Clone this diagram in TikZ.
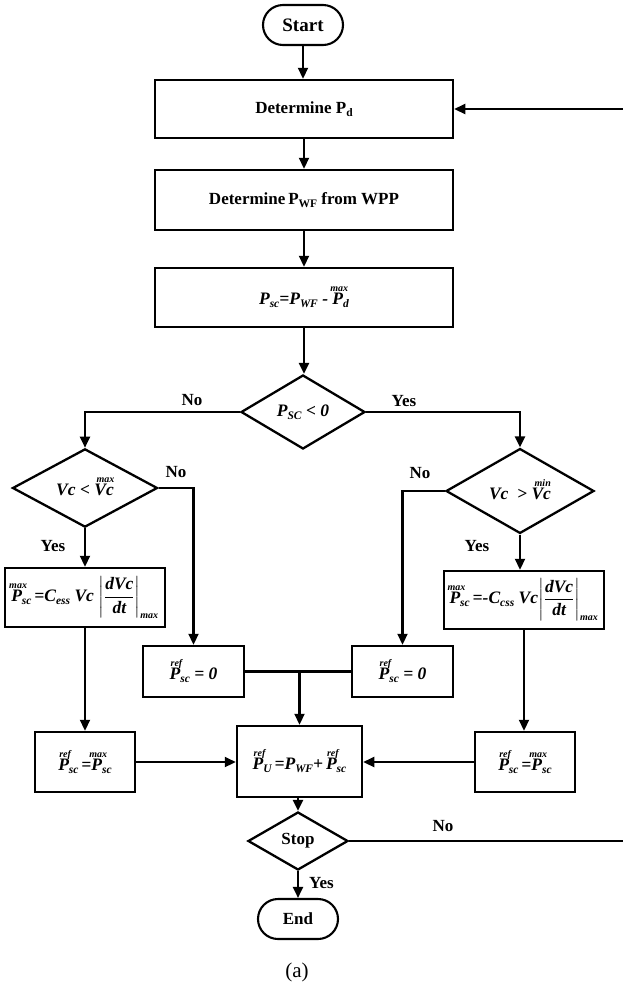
\documentclass[tikz,border=0pt]{standalone}
\usepackage{amsmath}
\usepackage{fontspec}
\setmainfont{Liberation Serif}
\usetikzlibrary{shapes.geometric,arrows.meta}

\newcommand{\subf}{\fontsize{11.5}{12}\selectfont}
\newcommand{\supf}{\fontsize{10}{10}\selectfont}
\newcommand{\mysub}[1]{\raisebox{-3pt}{\subf #1}}
\newcommand{\Pss}[3]{\setbox0=\hbox{#1}\rlap{\hbox to \wd0{\hss\hskip3pt\raisebox{13pt}{\supf #2}\hss}}\box0\mysub{#3}}
\newcommand{\dfr}{\left|\genfrac{}{}{1pt}{0}{\mbox{dVc}}{\mbox{dt}}\right|_{\mbox{\supf max}}}

\tikzset{
  box/.style={draw, line width=2.5pt, inner sep=0pt, align=center,
    font=\fontsize{17}{20}\selectfont\bfseries},
  fbox/.style={box, font=\fontsize{17.5}{20}\selectfont\bfseries\itshape},
  term/.style={draw, line width=2.1pt, rounded corners=20pt, minimum width=80pt,
    minimum height=40pt, inner sep=0pt, font=\fontsize{17}{20}\selectfont\bfseries},
  dia/.style={diamond, draw, line width=2.3pt, inner sep=0pt,
    font=\fontsize{17.5}{20}\selectfont\bfseries\itshape},
  arr/.style={-{Triangle[length=11pt,width=10pt]}, line width=2.2pt},
  ln/.style={line width=2.2pt},
  lab/.style={inner sep=0pt, font=\fontsize{17}{20}\selectfont\bfseries}
}

\begin{document}
\begin{tikzpicture}[x=1pt,y=-1pt]
\useasboundingbox (0,0) rectangle (622,994);

\node[term, font=\fontsize{19}{20}\selectfont\bfseries] (start) at (303,25) {Start};
\node[box, minimum width=298pt, minimum height=58pt] (b1) at (304,109) {Determine P\mysub{d}};
\node[box, minimum width=298pt, minimum height=60pt] (b2) at (304,200) {Determine\,P\mysub{WF} from WPP};
\node[fbox, minimum width=298pt, minimum height=59pt] (b3) at (304,297.5) {P\mysub{sc}=P\mysub{WF} - \Pss{P}{max}{d}};

\node[dia, minimum width=124pt, minimum height=74pt] (d1) at (303,412) {P\mysub{SC} < 0};
\node[dia, minimum width=145pt, minimum height=72pt] (dl) at (85,488) {Vc < \Pss{Vc}{max}{}};
\node[dia, minimum width=148pt, minimum height=72pt] (dr) at (520,491) {Vc \ > \Pss{Vc}{min}{}};

\node[fbox, minimum width=160pt, minimum height=59pt] (bl) at (85,597.5) {\Pss{P}{max}{sc}\,=C\mysub{ess}\ Vc\ $\dfr$};
\node[fbox, minimum width=160pt, minimum height=58pt] (br) at (524,600) {\Pss{P}{max}{sc}\,=-C\mysub{css}\ Vc$\dfr$};

\node[fbox, minimum width=101pt, minimum height=51pt] (zl) at (193.5,671.5) {\Pss{P}{ref}{sc} = 0};
\node[fbox, minimum width=101pt, minimum height=51pt] (zr) at (402.5,671.5) {\Pss{P}{ref}{sc} = 0};

\node[fbox, minimum width=100pt, minimum height=60pt] (rl) at (85,762) {\Pss{P}{ref}{sc}\,=\Pss{P}{max}{sc}};
\node[fbox, minimum width=100pt, minimum height=60pt] (rr) at (525,762) {\Pss{P}{ref}{sc}\,=\Pss{P}{max}{sc}};
\node[fbox, minimum width=125pt, minimum height=71pt] (bc) at (299.5,761.5) {\Pss{P}{ref}{U}\,=P\mysub{WF}+\,\Pss{P}{ref}{sc}};

\node[dia, minimum width=100pt, minimum height=58pt, font=\fontsize{17}{20}\selectfont\bfseries] (stop) at (298,841) {Stop};
\node[term] (end) at (298,919) {End};
\node[inner sep=0pt, font=\fontsize{21}{24}\selectfont] (cap) at (297,972) {(a)};

\coordinate (rx) at (627,0);

% connectors
\draw[arr] (start.south) -- (start.south |- b1.north);
\draw[arr] (b1.south) -- (b1.south |- b2.north);
\draw[arr] (b2.south) -- (b2.south |- b3.north);
\draw[arr] (b3.south) -- (b3.south |- d1.north);
\draw[arr] (d1.west) -| (dl.north);
\draw[arr] (d1.east) -| (dr.north);
\draw[arr] (dl.east) -| (zl.north);
\draw[arr] (dr.west) -| (zr.north);
\draw[arr] (dl.south) -- (dl.south |- bl.north);
\draw[arr] (dr.south) -- (dr.south |- br.north);
\draw[arr] (bl.south) -- (bl.south |- rl.north);
\draw[arr] (br.south) -- (br.south |- rr.north);
\coordinate (j) at (zl.east -| bc.north);
\draw[ln] (zl.east) -- (zr.west);
\draw[arr] (j) -- (bc.north);
\draw[arr] (rl.east) -- (rl.east -| bc.west);
\draw[arr] (rr.west) -- (rr.west -| bc.east);
\draw[arr] (bc.south -| stop.north) -- (stop.north);
\draw[arr] (stop.south) -- (end.north);
\draw[arr] (stop.east) -- (stop.east -| rx) |- (b1.east);

% labels
\node[lab] at (192,400) {No};
\node[lab] at (404,401) {Yes};
\node[lab] at (176,472) {No};
\node[lab] at (420,473) {No};
\node[lab] at (53,546) {Yes};
\node[lab] at (477,546) {Yes};
\node[lab] at (443,826) {No};
\node[lab, anchor=west] at (309,883) {Yes};
\end{tikzpicture}
\end{document}
